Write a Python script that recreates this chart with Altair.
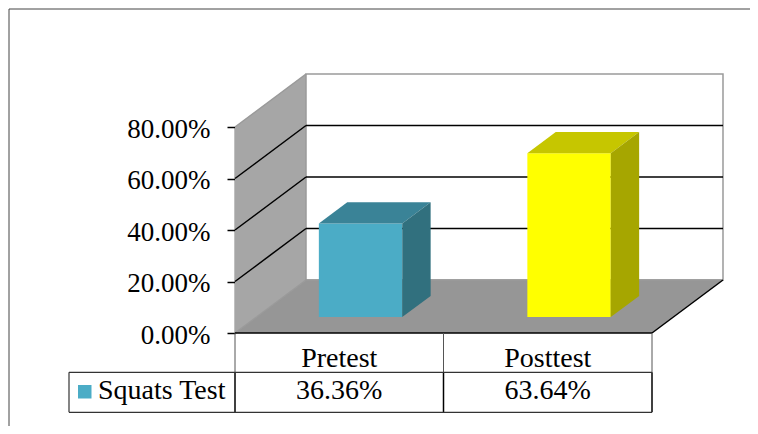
import altair as alt
import pandas as pd

# ---- data ----
categories = ["Pretest", "Posttest"]
values = [0.3636, 0.6364]
value_labels = ["36.36%", "63.64%"]
series_name = "Squats Test"
front_colors = ["#4BACC6", "#FFFF00"]
top_colors = ["#3A8397", "#C6C600"]
side_colors = ["#31707E", "#A6A600"]
y_ticks = [0.0, 0.2, 0.4, 0.6, 0.8]

# ---- 3D geometry (in scale units) ----
DX = 0.3405      # depth offset along x (category units)
DY = 0.2058      # depth offset along y (value units)
F0, F1 = 0.3, 0.7  # bar front/back depth fractions
BW0, BW1 = 0.3, 0.7  # bar left/right within category
YMAX = 0.8
NCAT = len(categories)

FONT = "Liberation Serif"
FS = 27
FS_T = 28

xs = alt.Scale(domain=[0, NCAT], nice=False, zero=False)
ys = alt.Scale(domain=[0, YMAX], nice=False, zero=False)
yaxis = alt.Axis(values=y_ticks, format=".2%", title=None, grid=False,
                 labelFont=FONT, labelFontSize=FS, labelColor="black",
                 tickColor="black", tickSize=8, tickWidth=1.5,
                 domainColor="black", domainWidth=1.5, labelPadding=17,
                 labelOffset=2)


def X(f="x", **kw):
    return alt.X(f"{f}:Q", scale=xs, axis=None, **kw)


def Y(f="y", **kw):
    return alt.Y(f"{f}:Q", scale=ys, axis=yaxis, **kw)


# side wall (vertical edges)
side_wall = pd.DataFrame({"x": [0, DX], "y": [0, DY], "y2": [YMAX, YMAX + DY]})
l_side = alt.Chart(side_wall).mark_area(color="#A6A6A6", orient="vertical").encode(
    x=X(), y=Y(stack=None), y2="y2:Q")

# back wall
back_wall = pd.DataFrame({"x": [DX], "x2": [NCAT + DX], "y": [DY], "y2": [YMAX + DY]})
l_back = alt.Chart(back_wall).mark_rect(fill="white", stroke="#9A9A9A", strokeWidth=1.5).encode(
    x=X(), x2="x2:Q", y=Y(), y2="y2:Q")

# floor (horizontal edges)
floor = pd.DataFrame({"y": [0, DY], "x": [0, DX], "x2": [NCAT, NCAT + DX]})
l_floor = alt.Chart(floor).mark_area(color="#969696", orient="horizontal").encode(
    y=Y(), x=X(stack=None), x2="x2:Q")

# gridlines
grid_vals = [v for v in y_ticks if 0 < v < YMAX]
grid_back = pd.DataFrame({"x": [DX] * len(grid_vals), "x2": [NCAT + DX] * len(grid_vals),
                          "y": [v + DY for v in grid_vals]})
l_grid_back = alt.Chart(grid_back).mark_rule(color="black", strokeWidth=1.5).encode(
    x=X(), x2="x2:Q", y=Y())
grid_side = pd.DataFrame({"x": [0] * len(grid_vals), "x2": [DX] * len(grid_vals),
                          "y": grid_vals, "y2": [v + DY for v in grid_vals]})
l_grid_side = alt.Chart(grid_side).mark_rule(color="black", strokeWidth=1.5).encode(
    x=X(), x2="x2:Q", y=Y(), y2="y2:Q")

# top edges of side wall (grey) and floor edges
edges_grey = pd.DataFrame({"x": [0, 0, DX], "x2": [DX, DX, NCAT + DX],
                           "y": [YMAX, 0, DY], "y2": [YMAX + DY, DY, DY]})
l_edges_grey = alt.Chart(edges_grey).mark_rule(color="#9A9A9A", strokeWidth=1.5).encode(
    x=X(), x2="x2:Q", y=Y(), y2="y2:Q")
edges_black = pd.DataFrame({"x": [0, NCAT], "x2": [NCAT, NCAT + DX],
                            "y": [0, 0], "y2": [0, DY]})
l_edges_black = alt.Chart(edges_black).mark_rule(color="black", strokeWidth=1.5).encode(
    x=X(), x2="x2:Q", y=Y(), y2="y2:Q")

# bars
front_rows, top_rows, side_rows = [], [], []
for i, (c, v) in enumerate(zip(categories, values)):
    front_rows.append({"cat": c, "x": i + BW0 + F0 * DX, "x2": i + BW1 + F0 * DX,
                       "y": F0 * DY, "y2": v + F0 * DY, "col": front_colors[i]})
    for f in (F0, F1):
        top_rows.append({"cat": c, "y": v + f * DY, "x": i + BW0 + f * DX,
                         "x2": i + BW1 + f * DX, "col": top_colors[i]})
        side_rows.append({"cat": c, "x": i + BW1 + f * DX, "y": f * DY,
                          "y2": v + f * DY, "col": side_colors[i]})

l_front = alt.Chart(pd.DataFrame(front_rows)).mark_rect().encode(
    x=X(), x2="x2:Q", y=Y(), y2="y2:Q", color=alt.Color("col:N", scale=None))
l_top = alt.Chart(pd.DataFrame(top_rows)).mark_area(orient="horizontal").encode(
    y=Y(), x=X(stack=None), x2="x2:Q", detail="cat:N",
    color=alt.Color("col:N", scale=None))
l_sidef = alt.Chart(pd.DataFrame(side_rows)).mark_area(orient="vertical").encode(
    x=X(), y=Y(stack=None), y2="y2:Q", detail="cat:N",
    color=alt.Color("col:N", scale=None))

# ---- data table (pixel layout relative to plot area) ----
VIEW_H = 206
ROW1 = 245.3   # line between category row and value row
ROW2 = 285.3   # bottom of table
LEG_X = -166   # left edge of legend cell

tbl = pd.DataFrame({"x": [i + 0.5 for i in range(NCAT)], "cat": categories,
                    "val": value_labels})
l_cat = alt.Chart(tbl).mark_text(font=FONT, fontSize=FS_T, color="black",
                                 baseline="alphabetic", align="center").encode(
    x=X(), y=alt.value(239.7), text="cat:N")
l_val = alt.Chart(tbl).mark_text(font=FONT, fontSize=FS_T, color="black",
                                 baseline="alphabetic", align="center").encode(
    x=X(), y=alt.value(272.3), text="val:N")

vlines = pd.DataFrame({"x": list(range(NCAT + 1))})
l_vup = alt.Chart(vlines).mark_rule(color="#555555", strokeWidth=1).encode(
    x=X(), y=alt.value(VIEW_H), y2=alt.value(ROW1))
l_vlo = alt.Chart(vlines).mark_rule(color="black", strokeWidth=1.5).encode(
    x=X(), y=alt.value(ROW1), y2=alt.value(ROW2))

l_h1 = alt.Chart(pd.DataFrame({"x": [NCAT]})).mark_rule(color="#333333", strokeWidth=1.2).encode(
    x=X(), x2=alt.value(LEG_X), y=alt.value(ROW1))
l_h2 = alt.Chart(pd.DataFrame({"x": [NCAT]})).mark_rule(color="#333333", strokeWidth=1.2).encode(
    x=X(), x2=alt.value(LEG_X), y=alt.value(ROW2))
l_hleft = alt.Chart(pd.DataFrame({"a": [0]})).mark_rule(color="#333333", strokeWidth=1.2).encode(
    x=alt.value(LEG_X), y=alt.value(ROW1), y2=alt.value(ROW2))

leg = pd.DataFrame({"name": [series_name], "col": [front_colors[0]]})
l_legsq = alt.Chart(leg).mark_rect().encode(
    x=alt.value(-157), x2=alt.value(-143.5), y=alt.value(258), y2=alt.value(271.5),
    color=alt.Color("col:N", scale=None))
l_legtx = alt.Chart(leg).mark_text(font=FONT, fontSize=FS_T, color="black",
                                   align="left", baseline="alphabetic").encode(
    x=alt.value(-137), y=alt.value(272.3), text="name:N")

# outer chart-area frame (top and left visible)
l_frame_top = alt.Chart(pd.DataFrame({"a": [0]})).mark_rule(color="#444444", strokeWidth=1).encode(
    x=alt.value(-226), x2=alt.value(530), y=alt.value(-118))
l_frame_left = alt.Chart(pd.DataFrame({"a": [0]})).mark_rule(color="#444444", strokeWidth=1).encode(
    x=alt.value(-226), y=alt.value(-118), y2=alt.value(320))

chart = alt.layer(
    l_side, l_back, l_floor, l_edges_grey, l_grid_back, l_grid_side, l_edges_black,
    l_front, l_top, l_sidef,
    l_vup, l_vlo, l_h1, l_h2, l_hleft, l_cat, l_val, l_legsq, l_legtx,
    l_frame_top, l_frame_left,
).properties(
    width=417, height=VIEW_H,
    padding={"left": 227, "top": 119, "right": 98, "bottom": 93},
    autosize=alt.AutoSizeParams(type="none"),
    background="white",
).configure_view(stroke=None)

chart.save("out.html", embed_options={"renderer": "svg", "actions": False})
